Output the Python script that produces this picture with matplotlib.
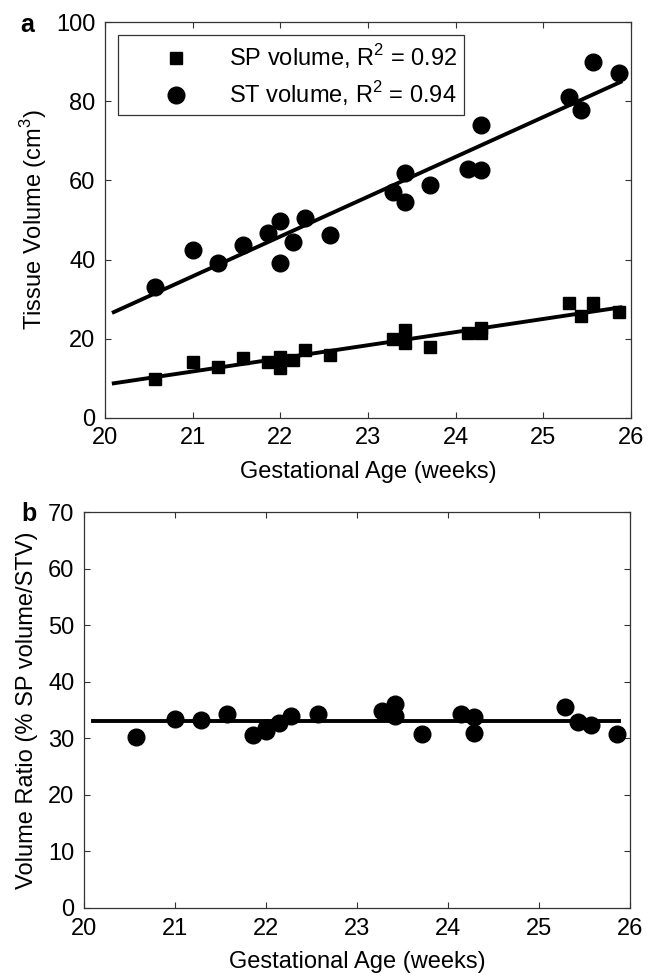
import numpy as np
import matplotlib
matplotlib.use('Agg')
import matplotlib.pyplot as plt

plt.rcParams['font.family'] = ['Liberation Sans', 'DejaVu Sans']
plt.rcParams['mathtext.fontset'] = 'custom'
plt.rcParams['mathtext.rm'] = 'Liberation Sans'

# gestational age (weeks) of each fetus
age = [20.57, 21.0, 21.29, 21.57, 21.86, 22.0, 22.0, 22.14, 22.28, 22.57,
       23.28, 23.42, 23.42, 23.71, 24.14, 24.29, 24.29, 25.29, 25.43, 25.57, 25.86]
# SP volume (cm3)
sp_vol = [9.9, 14.1, 12.9, 15.0, 14.1, 15.4, 12.5, 14.6, 17.1, 15.8,
          20.0, 22.1, 18.8, 17.9, 21.5, 22.6, 21.3, 28.9, 25.7, 29.1, 26.8]
# ST volume (cm3)
st_vol = [33.1, 42.5, 39.0, 43.8, 46.6, 49.7, 39.2, 44.5, 50.5, 46.1,
          57.1, 61.9, 54.6, 58.9, 63.0, 74.1, 62.7, 81.1, 77.7, 89.9, 87.2]
# volume ratio (% SP volume/STV)
ratio = [30.25, 33.5, 33.2, 34.4, 30.55, 31.3, 31.9, 32.7, 33.9, 34.4,
         34.8, 36.0, 33.9, 30.7, 34.3, 31.0, 33.8, 35.6, 32.9, 32.4, 30.8]

# regression lines (end points)
fit_x = [20.1, 25.88]
sp_fit = [8.7, 27.9]
st_fit = [26.7, 84.9]
ratio_fit = [33.0, 33.0]

FS = 17
fig = plt.figure(figsize=(6.56, 9.76), dpi=100)

def style(ax):
    for s in ax.spines.values():
        s.set_linewidth(0.9)
        s.set_color('#333333')
    ax.tick_params(direction='in', length=4, width=0.8, top=True, right=True,
                   labelsize=FS, pad=7, colors='#333333', labelcolor='black')
    ax.set_xlim(20, 26)
    ax.set_xticks(range(20, 27))

# panel a
ax1 = fig.add_axes((105/656, 1-417.7/976, 526/656, 395.4/976))
ax1.plot(age, sp_vol, 's', color='black', ms=9, label='SP volume, R$^2$ = 0.92')
ax1.plot(age, st_vol, 'o', color='black', ms=12, label='ST volume, R$^2$ = 0.94')
ax1.plot(fit_x, sp_fit, '-', color='black', lw=2.8)
ax1.plot(fit_x, st_fit, '-', color='black', lw=2.8)
style(ax1)
ax1.set_ylim(0, 100)
ax1.set_xlabel('Gestational Age (weeks)', fontsize=FS, labelpad=8)
ax1.set_ylabel('Tissue Volume (cm$^3$)', fontsize=FS, labelpad=5)
leg = ax1.legend(loc='upper left', bbox_to_anchor=(0.0247, 0.968), borderaxespad=0,
                 fontsize=FS, frameon=True, fancybox=False, edgecolor='black',
                 borderpad=0.3, handlelength=4.3, handletextpad=0.1, labelspacing=0.35)
leg.get_frame().set_linewidth(0.9)
fig.text(27/656, 1-25/976, 'a', fontsize=18, fontweight='bold', ha='center', va='center')

# panel b
ax2 = fig.add_axes((84/656, 1-908/976, 546/656, 395.7/976))
ax2.plot(age, ratio, 'o', color='black', ms=12)
ax2.plot(fit_x, ratio_fit, '-', color='black', lw=2.8)
style(ax2)
ax2.set_ylim(0, 70)
ax2.set_xlabel('Gestational Age (weeks)', fontsize=FS, labelpad=8)
ax2.set_ylabel('Volume Ratio (% SP volume/STV)', fontsize=FS, labelpad=7)
fig.text(29/656, 1-514/976, 'b', fontsize=18, fontweight='bold', ha='center', va='center')

fig.savefig('out.png', dpi=100)
